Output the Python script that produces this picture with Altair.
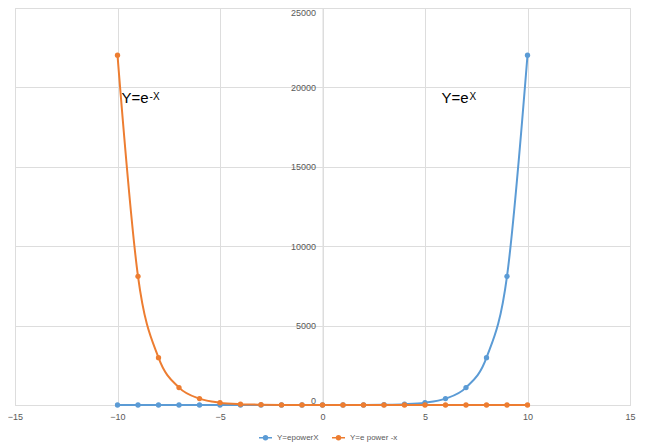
import altair as alt
import pandas as pd

xs = [-10, -9, -8, -7, -6, -5, -4, -3, -2, -1, 0, 1, 2, 3, 4, 5, 6, 7, 8, 9, 10]
y_ex = [0.0000454, 0.000123, 0.000335, 0.000912, 0.00248, 0.00674, 0.0183, 0.0498,
        0.135, 0.368, 1.0, 2.72, 7.39, 20.1, 54.6, 148.4, 403.4, 1096.6, 2981.0, 8103.1, 22026.5]
y_enx = [22026.5, 8103.1, 2981.0, 1096.6, 403.4, 148.4, 54.6, 20.1, 7.39, 2.72, 1.0,
         0.368, 0.135, 0.0498, 0.0183, 0.00674, 0.00248, 0.000912, 0.000335, 0.000123, 0.0000454]
series_names = ["Y=epowerX", "Y=e power -x"]
colors = ["#5B9BD5", "#ED7D31"]

x_ticks = [-15, -10, -5, 0, 5, 10, 15]
y_ticks = [0, 5000, 10000, 15000, 20000, 25000]

ann_x = [-9.8, 5.8]
ann_y = [19000, 19000]
ann_main = ["Y=e", "Y=e"]
ann_sup = ["-X", "X"]

rows = []
for i, x in enumerate(xs):
    rows.append({"x": x, "y": y_ex[i], "s": series_names[0], "o": 0})
for i, x in enumerate(xs):
    rows.append({"x": x, "y": y_enx[i], "s": series_names[1], "o": 1})
df = pd.DataFrame(rows)
ann = pd.DataFrame({"x": ann_x, "y": ann_y, "m": ann_main, "s": ann_sup})

W = 615
grid_c = "#DDDDDD"
xenc = alt.X("x:Q", scale=alt.Scale(domain=[-15, 15], nice=False),
             axis=alt.Axis(values=x_ticks, grid=True, gridColor=grid_c, domainColor=grid_c,
                           ticks=False, labelColor="#595959", labelFontSize=9, labelPadding=7,
                           labelFlush=False, labelFont="Liberation Sans", title=None))
yenc = alt.Y("y:Q", scale=alt.Scale(domain=[0, 25000], nice=False),
             axis=alt.Axis(values=y_ticks, grid=True, gridColor=grid_c, domainColor=grid_c,
                           ticks=False, labelColor="#595959", labelFontSize=9, labelPadding=7,
                           labelFlush=True, labelFont="Liberation Sans", offset=-(W / 2),
                           format="d", title=None))

legend_path = ("M-1,0L1,0M-0.3,0a0.3,0.3 0 1,0 0.6,0a0.3,0.3 0 1,0 -0.6,0"
               "M-0.15,0a0.15,0.15 0 1,0 0.3,0a0.15,0.15 0 1,0 -0.3,0")
color = alt.Color("s:N", scale=alt.Scale(domain=series_names, range=colors),
                  legend=alt.Legend(title=None, orient="none", direction="horizontal",
                                    legendX=243, legendY=422, symbolType=legend_path,
                                    symbolSize=169, symbolStrokeWidth=1.5,
                                    labelFontSize=8, labelColor="#595959",
                                    labelFont="Liberation Sans", columnPadding=10))

base = alt.Chart(df)
lines = base.mark_line(interpolate="monotone", strokeWidth=2).encode(
    x=xenc, y=yenc, color=color, detail="s:N", order="x:Q")
points = base.mark_point(filled=True, size=28, opacity=1).encode(
    x="x:Q", y="y:Q",
    color=alt.Color("s:N", scale=alt.Scale(domain=series_names, range=colors), legend=None))

blue_l = lines.transform_filter(alt.datum.o == 0)
blue_p = points.transform_filter(alt.datum.o == 0)
org_l = lines.transform_filter(alt.datum.o == 1)
org_p = points.transform_filter(alt.datum.o == 1)

t_main = alt.Chart(ann).mark_text(align="left", baseline="alphabetic", fontSize=15,
                                  font="Liberation Sans", color="#000000").encode(
    x="x:Q", y="y:Q", text="m:N")
t_sup = alt.Chart(ann).mark_text(align="left", baseline="alphabetic", fontSize=10,
                                 font="Liberation Sans", color="#000000", dx=28, dy=-3).encode(
    x="x:Q", y="y:Q", text="s:N")

chart = alt.layer(blue_l, blue_p, org_l, org_p, t_main, t_sup).properties(
    width=W, height=397,
    autosize=alt.AutoSizeParams(type="none"),
    padding={"left": 7, "top": 0, "right": 7, "bottom": 38},
).configure_view(stroke=None).configure(background="white")

chart.save("out.html", embed_options={"renderer": "svg", "actions": False})
